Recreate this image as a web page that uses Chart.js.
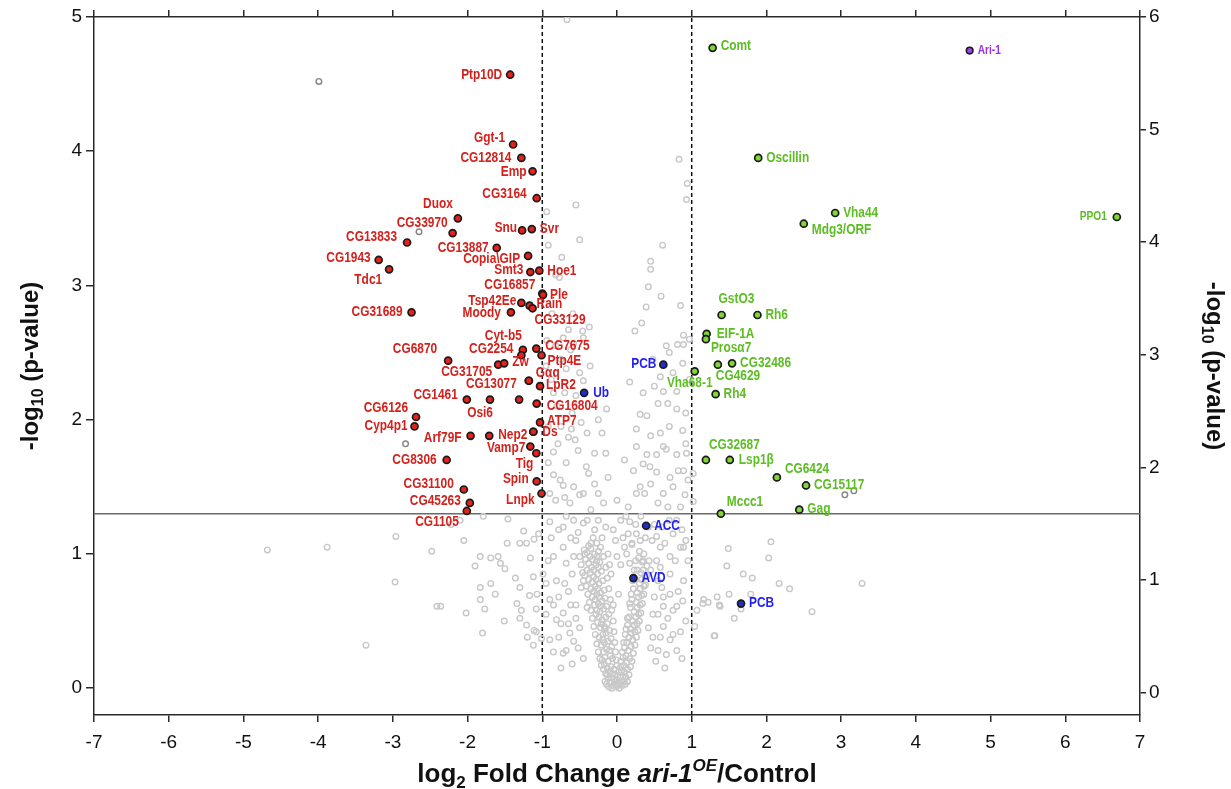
<!DOCTYPE html>
<html>
<head>
<meta charset="utf-8">
<script src="https://cdn.jsdelivr.net/npm/chart.js@4.4.0/dist/chart.umd.min.js"></script>
<style>html,body{margin:0;padding:0;background:#fff;}</style>
</head>
<body>
<canvas id="myChart" width="1231" height="789"></canvas>
<script>
const xTicks = [-7, -6, -5, -4, -3, -2, -1, 0, 1, 2, 3, 4, 5, 6, 7];
const yLeftTicks = [0, 1, 2, 3, 4, 5];
const yRightTicks = [0, 1, 2, 3, 4, 5, 6];
const pCutoff = 1.3;
const foldCutoff = 1;

// down-regulated (red)
const redNames = ['Ptp10D', 'Ggt-1', 'CG12814', 'Emp', 'CG3164', 'Duox', 'CG33970', 'CG13833', 'CG1943', 'Tdc1',
  'Snu', 'Svr', 'CG13887', 'Copia\\GIP', 'Smt3', 'Hoe1', 'CG16857', 'Ple', 'Tsp42Ee', 'CG33129', 'Rain', 'Moody',
  'CG31689', 'Cyt-b5', 'CG2254', 'CG7675', 'Ptp4E', 'CG6870', 'CG31705', 'Zw', 'CG13077', 'Gαq', 'LpR2',
  'CG1461', 'Osi6', '', 'CG16804', 'CG6126', 'Cyp4p1', 'ATP7', 'Nep2', 'Ds', 'Arf79F', '', 'Vamp7', 'Tig',
  'CG8306', 'Spin', 'Lnpk', 'CG31100', 'CG45263', 'CG1105'];
const redX = [-1.43, -1.39, -1.28, -1.13, -1.075, -2.13, -2.20, -2.81, -3.19, -3.05,
  -1.27, -1.14, -1.61, -1.19, -1.16, -1.04, -1.00, -0.99, -1.28, -1.17, -1.13, -1.42,
  -2.75, -1.26, -1.28, -1.08, -1.01, -2.26, -1.59, -1.51, -1.18, -1.18, -1.03,
  -2.01, -1.70, -1.31, -1.075, -2.69, -2.71, -1.03, -1.12, -1.12, -1.96, -1.71, -1.16, -1.08,
  -2.28, -1.075, -1.01, -2.05, -1.97, -2.01];
const redY = [4.57, 4.05, 3.95, 3.85, 3.65, 3.50, 3.39, 3.32, 3.19, 3.12,
  3.41, 3.42, 3.28, 3.22, 3.10, 3.11, 2.94, 2.93, 2.87, 2.85, 2.83, 2.80,
  2.80, 2.52, 2.48, 2.53, 2.48, 2.44, 2.41, 2.42, 2.29, 2.29, 2.25,
  2.15, 2.15, 2.15, 2.12, 2.02, 1.95, 1.98, 1.91, 1.91, 1.88, 1.88, 1.80, 1.75,
  1.70, 1.54, 1.45, 1.48, 1.38, 1.32];

// up-regulated (green)
const greenNames = ['Comt', 'Oscillin', 'Vha44', 'Mdg3/ORF', 'GstO3', 'Rh6', 'EIF-1A', 'Prosα7', 'CG4629',
  'CG32486', 'Vha68-1', 'Rh4', 'CG32687', 'Lsp1β', 'CG6424', 'CG15117', 'Mccc1', 'Gag', 'PPO1'];
const greenX = [1.28, 1.89, 2.92, 2.50, 1.40, 1.88, 1.20, 1.19, 1.35, 1.54, 1.04, 1.32, 1.19, 1.51, 2.14, 2.53, 1.39, 2.44, 6.69];
const greenY = [4.77, 3.95, 3.54, 3.46, 2.78, 2.78, 2.64, 2.60, 2.41, 2.42, 2.36, 2.19, 1.70, 1.70, 1.57, 1.51, 1.30, 1.33, 3.51];

// highlighted (blue)
const blueNames = ['PCB', 'Ub', 'ACC', 'AVD', 'PCB'];
const blueX = [0.62, -0.44, 0.39, 0.22, 1.66];
const blueY = [2.41, 2.20, 1.21, 0.82, 0.63];

// overexpressed gene (purple)
const ariNames = ['Ari-1'];
const ariX = [4.72];
const ariY = [4.75];

// significant but unnamed
const darkGrayPoints = [[-3.99, 4.52], [-2.65, 3.40], [-2.83, 1.82], [3.05, 1.44], [3.17, 1.47]];

// all other proteins
const grayPoints = [
  [-0.14, 0.03], [-0.11, 0.01], [-0.09, 0.04], [-0.07, 0.00], [-0.05, 0.02], [-0.03, 0.05], [-0.01, 0.01], [0.01, 0.03],
  [0.03, 0.00], [0.05, 0.04], [0.07, 0.02], [0.09, 0.05], [0.11, 0.03], [-0.12, 0.07], [-0.08, 0.08], [-0.04, 0.07],
  [0.00, 0.06], [0.04, 0.08], [0.08, 0.09], [0.12, 0.08], [-0.15, 0.11], [-0.10, 0.12], [-0.06, 0.11], [-0.02, 0.10],
  [0.02, 0.12], [0.06, 0.13], [0.10, 0.12], [0.14, 0.14], [-0.13, 0.15], [-0.08, 0.16], [-0.04, 0.14], [0.00, 0.17],
  [0.05, 0.16], [0.09, 0.17], [-0.17, 0.18], [0.13, 0.19],
  [-0.20, 0.21], [-0.16, 0.23], [-0.12, 0.20], [-0.09, 0.24], [-0.06, 0.22], [-0.18, 0.27], [-0.14, 0.29], [-0.10, 0.28],
  [-0.07, 0.31], [-0.21, 0.32], [-0.17, 0.34], [-0.12, 0.35], [-0.08, 0.37], [-0.24, 0.38], [-0.19, 0.40], [-0.15, 0.41],
  [-0.10, 0.43], [-0.22, 0.45], [-0.17, 0.46], [-0.13, 0.48], [-0.26, 0.49], [-0.20, 0.51], [-0.15, 0.53], [-0.11, 0.55],
  [-0.28, 0.55], [-0.23, 0.57], [-0.18, 0.59], [-0.14, 0.61], [-0.30, 0.62], [-0.25, 0.63], [-0.20, 0.65], [-0.16, 0.67],
  [-0.33, 0.68], [-0.27, 0.70], [-0.22, 0.71], [-0.17, 0.73], [-0.35, 0.74], [-0.29, 0.76], [-0.24, 0.78], [-0.19, 0.80],
  [-0.38, 0.81], [-0.31, 0.83], [-0.26, 0.85], [-0.21, 0.87], [-0.40, 0.88], [-0.34, 0.90], [-0.28, 0.92], [-0.23, 0.94],
  [-0.42, 0.96], [-0.36, 0.98], [-0.30, 1.00], [-0.44, 1.03], [-0.25, 1.02],
  [-0.16, 0.05], [-0.13, 0.10], [-0.18, 0.14], [-0.21, 0.17], [-0.23, 0.22], [-0.25, 0.27], [-0.27, 0.33], [-0.29, 0.40],
  [-0.31, 0.46], [-0.33, 0.52], [-0.35, 0.58], [-0.37, 0.64], [-0.39, 0.70], [-0.41, 0.76], [-0.43, 0.84], [-0.46, 0.86],
  [-0.50, 0.98], [-0.38, 1.06], [-0.32, 1.12], [-0.27, 1.08], [-0.22, 1.05], [-0.18, 0.98], [-0.15, 0.90], [-0.13, 0.82],
  [-0.11, 0.74], [-0.09, 0.66], [-0.07, 0.58], [-0.05, 0.50], [-0.04, 0.42], [-0.03, 0.34], [-0.02, 0.27], [-0.01, 0.21],
  [-0.19, 0.36], [-0.16, 0.44], [-0.21, 0.48], [-0.24, 0.53], [-0.27, 0.58], [-0.22, 0.61], [-0.29, 0.66], [-0.24, 0.68],
  [-0.31, 0.72], [-0.26, 0.74], [-0.33, 0.79], [-0.28, 0.81], [-0.36, 0.86], [-0.31, 0.88], [-0.25, 0.90], [-0.38, 0.93],
  [-0.33, 0.96], [-0.27, 0.98], [-0.40, 1.01], [-0.35, 1.04],
  [0.17, 0.22], [0.12, 0.24], [0.08, 0.23], [0.15, 0.28], [0.10, 0.30], [0.19, 0.31], [0.13, 0.34], [0.21, 0.36],
  [0.16, 0.38], [0.11, 0.40], [0.24, 0.42], [0.18, 0.44], [0.14, 0.47], [0.27, 0.48], [0.21, 0.50], [0.16, 0.53],
  [0.29, 0.55], [0.23, 0.57], [0.18, 0.60], [0.31, 0.62], [0.26, 0.64], [0.20, 0.66], [0.33, 0.69], [0.27, 0.71],
  [0.22, 0.74], [0.36, 0.76], [0.30, 0.78], [0.25, 0.81], [0.38, 0.83], [0.32, 0.86], [0.27, 0.88], [0.40, 0.91],
  [0.34, 0.94], [0.29, 0.97],
  [0.14, 0.05], [0.16, 0.10], [0.18, 0.16], [0.20, 0.20], [0.22, 0.26], [0.24, 0.32], [0.26, 0.38], [0.28, 0.43],
  [0.30, 0.50], [0.32, 0.56], [0.34, 0.63], [0.36, 0.70], [0.38, 0.77], [0.40, 0.84], [0.43, 0.95], [0.36, 1.00],
  [0.05, 0.20], [0.07, 0.27], [0.09, 0.34], [0.12, 0.44], [0.14, 0.52], [0.17, 0.63], [0.19, 0.70], [0.21, 0.80],
  [0.23, 0.88], [0.25, 0.95], [0.19, 0.41], [0.23, 0.47], [0.25, 0.53], [0.27, 0.60], [0.29, 0.68], [0.31, 0.74],
  [0.33, 0.81], [0.35, 0.88],
  [-0.05, 0.62], [0.02, 0.70], [-0.08, 0.85], [0.05, 0.92], [-0.12, 1.00], [0.10, 1.05], [-0.02, 1.10], [0.20, 1.08],
  [-0.35, 1.08], [-0.20, 1.12], [0.30, 1.02], [0.38, 1.12], [-0.48, 0.92], [-0.45, 0.80], [0.45, 0.88], [-0.15, 1.20],
  [0.05, 1.25], [0.25, 1.22], [-0.30, 1.18], [-0.40, 1.25], [0.42, 1.20],
  [-0.10, 0.92], [0.00, 0.98], [0.08, 1.12], [0.15, 1.15], [-0.05, 1.18], [-0.25, 1.25], [0.32, 1.28], [0.12, 1.28],
  [-0.52, 1.16], [-0.62, 1.12], [0.58, 1.05], [0.47, 1.10], [0.60, 1.20], [-0.68, 1.28], [-0.78, 1.18], [0.70, 1.25],
  [0.92, 1.10],
  [-0.90, 1.24], [-0.72, 1.20], [-0.58, 1.25], [-0.45, 1.23], [-1.05, 1.15], [-0.72, 1.05], [-0.85, 0.98], [-0.58, 0.98],
  [-0.43, 1.00], [-0.27, 0.95], [-0.99, 0.85], [-0.81, 0.80], [-1.07, 0.70], [-0.90, 0.66], [-0.72, 0.56], [-0.81, 0.51],
  [-0.63, 0.41], [-0.90, 0.36], [-0.85, 0.27], [-0.72, 0.26], [-0.65, 0.72], [-0.55, 0.62], [-0.60, 0.85], [-0.50, 0.45],
  [-0.68, 0.93], [-0.78, 0.68], [-0.95, 0.55], [-0.52, 0.30], [-0.60, 0.18], [-0.45, 0.22], [-0.75, 0.15], [-0.40, 0.60],
  [-0.55, 1.10], [-0.88, 1.12], [-0.65, 0.48], [-0.48, 0.75],
  [-0.55, 0.52], [-0.62, 0.62], [-0.70, 0.78], [-0.58, 0.35], [-0.68, 0.28], [-0.78, 0.38], [-0.95, 0.78], [-0.92, 0.95],
  [-0.75, 0.48], [-0.85, 0.62],
  [0.17, 1.24], [0.26, 1.15], [0.20, 1.07], [0.31, 1.10], [0.53, 1.13], [0.75, 1.15], [0.87, 1.18], [0.89, 1.05],
  [0.71, 0.98], [0.13, 1.00], [0.17, 0.93], [0.35, 0.95], [0.53, 0.95], [0.71, 0.85], [0.89, 0.80], [0.71, 0.70],
  [0.80, 0.61], [0.62, 0.61], [0.71, 0.36], [0.62, 0.46], [0.80, 0.28], [0.87, 0.22], [0.55, 0.80], [0.50, 0.68],
  [0.60, 0.75], [0.48, 0.55], [0.58, 0.38], [0.45, 0.30], [0.52, 0.20], [0.66, 0.25], [0.92, 0.50], [0.85, 0.42],
  [0.95, 0.95], [0.64, 1.08], [0.50, 1.22], [0.80, 1.25], [0.42, 0.45],
  [0.55, 0.55], [0.62, 0.68], [0.68, 0.52], [0.75, 0.58], [0.82, 0.72], [0.88, 0.65], [0.55, 0.28], [0.64, 0.15],
  [0.75, 0.40], [0.48, 0.38], [0.58, 0.90], [0.78, 0.95], [0.85, 1.05],
  [-0.36, 2.40], [-0.50, 2.35], [-0.45, 2.29], [0.17, 2.28], [0.62, 2.21], [0.80, 2.21], [0.80, 2.08], [-0.14, 2.08],
  [0.31, 2.04], [0.40, 2.03], [-0.25, 2.00], [0.26, 1.93], [-0.61, 1.93], [-0.65, 1.87], [-0.56, 1.85], [-0.79, 1.82],
  [-0.85, 1.76], [-0.52, 1.77], [0.26, 1.80], [0.40, 1.74], [0.53, 1.74], [0.62, 1.80], [0.66, 1.78], [0.35, 1.67],
  [0.44, 1.65], [0.53, 1.61], [0.80, 1.74], [0.93, 1.75], [0.89, 1.62], [0.71, 1.57], [-0.12, 1.57], [-0.41, 1.65],
  [-0.38, 1.60], [-0.85, 1.59], [-0.76, 1.55], [-0.72, 1.51], [-0.58, 1.50], [-0.45, 1.45], [-0.90, 1.45], [-0.25, 1.45],
  [0.31, 1.50], [0.26, 1.45], [0.37, 1.45], [0.75, 1.50], [0.91, 1.44], [-0.63, 1.38], [-0.50, 1.44],
  [-0.80, 2.10], [-0.70, 2.20], [-0.88, 2.30], [-0.60, 2.05], [-0.92, 1.95], [-0.68, 1.68], [-0.30, 1.75], [-0.20, 1.90],
  [0.10, 1.70], [0.00, 1.40], [0.15, 1.35], [-0.35, 1.33], [0.55, 1.38], [0.68, 1.35], [0.85, 1.35], [0.95, 1.55],
  [0.70, 1.95], [0.92, 2.05], [0.55, 2.12], [0.48, 2.45], [0.70, 2.50], [0.58, 2.32], [-0.75, 2.45], [-0.62, 2.52],
  [-0.95, 2.40], [0.88, 1.92], [0.97, 2.30], [0.97, 2.60], [-0.85, 2.20],
  [-0.82, 1.40], [-0.70, 1.42], [-0.30, 1.52], [-0.18, 1.38], [0.22, 1.62], [0.45, 1.52], [0.62, 1.45], [0.82, 1.62],
  [0.58, 1.90], [0.45, 1.88], [0.75, 2.35], [0.88, 2.42], [-0.55, 2.18], [-0.68, 2.38], [-0.82, 2.55], [-0.48, 1.98],
  [-0.92, 1.68], [-0.75, 1.95], [0.35, 2.20], [0.50, 2.25], [0.68, 2.12], [0.92, 1.82], [-0.40, 1.90], [-0.15, 1.75],
  [-0.67, 4.98], [0.83, 3.94], [0.94, 3.76], [0.93, 3.64], [-0.94, 3.55], [-0.55, 3.60], [-0.50, 3.34], [0.61, 3.30],
  [-0.74, 3.21], [0.45, 3.18], [0.45, 3.12], [-0.77, 3.06], [0.42, 2.99], [0.59, 2.92], [0.85, 2.85], [0.39, 2.84],
  [0.33, 2.72], [0.24, 2.66], [0.89, 2.63], [-0.87, 2.79], [-0.59, 2.79], [-0.65, 2.67], [-0.46, 2.66], [-0.37, 2.69],
  [-0.72, 2.61], [-0.45, 2.61], [-0.58, 2.57], [-0.94, 2.59], [0.66, 2.55], [0.81, 2.56], [0.89, 2.56], [-0.82, 3.08],
  [-0.92, 3.30],
  [-4.68, 1.03], [-3.88, 1.05], [-3.36, 0.32], [-2.96, 1.13], [-2.97, 0.79], [-2.48, 1.02], [-2.41, 0.61], [-2.36, 0.61],
  [-2.05, 1.10], [-2.02, 0.56], [-1.79, 1.28], [-2.10, 1.25], [-1.83, 0.98], [-1.90, 0.91], [-1.69, 0.97], [-1.56, 0.93],
  [-1.50, 0.89], [-1.46, 1.26], [-1.47, 1.08], [-1.30, 1.08], [-1.21, 1.08], [-1.25, 1.17], [-1.11, 1.11], [-1.16, 0.97],
  [-1.36, 0.82], [-1.12, 0.83], [-1.69, 0.78], [-1.83, 0.75], [-1.30, 0.75], [-1.63, 0.70], [-1.17, 0.69], [-1.83, 0.66],
  [-1.77, 0.59], [-1.34, 0.63], [-1.28, 0.58], [-1.08, 0.59], [-1.30, 0.52], [-1.51, 0.50], [-1.21, 0.47], [-1.11, 0.43],
  [-1.08, 0.42], [-1.80, 0.41], [-1.20, 0.38], [-1.12, 0.32], [-1.01, 0.37], [-2.22, 1.22], [-1.59, 0.98],
  [1.02, 1.39], [1.02, 1.60],
  [2.06, 1.09], [1.49, 1.04], [2.03, 0.97], [1.47, 0.91], [1.69, 0.85], [1.81, 0.82], [2.17, 0.78], [2.31, 0.74],
  [3.28, 0.78], [1.50, 0.70], [1.34, 0.68], [1.79, 0.70], [1.16, 0.66], [1.22, 0.64], [1.37, 0.62], [1.15, 0.63],
  [1.66, 0.59], [1.07, 0.58], [2.61, 0.57], [1.57, 0.52], [1.04, 0.46], [1.30, 0.39], [1.38, 0.61], [1.31, 0.39]
];

// label placement: [dx px, dy px, align]
const redLabelPos = [[-8, 0, 'r'], [-8, -6, 'r'], [-10, 0, 'r'], [-6, 1, 'r'], [-10, -4, 'r'], [-5, -14, 'r'], [-5, -10, 'r'],
  [-10, -5, 'r'], [-8, -2, 'r'], [-7, 11, 'r'], [-5, -2, 'r'], [8, 0, 'l'], [-8, 0, 'r'], [-8, 3, 'r'], [-7, -2, 'r'],
  [8, 0, 'l'], [-7, -8, 'r'], [7, 0, 'l'], [-5, -2, 'r'], [5, 15, 'l'], [4, -4, 'l'], [-10, 1, 'r'],
  [-9, 0, 'r'], [-1, -14, 'r'], [-8, -6, 'r'], [9, -2, 'l'], [6, 6, 'l'], [-11, -11, 'r'], [-6, 7, 'r'], [8, -1, 'l'],
  [-12, 3, 'r'], [7, -8, 'l'], [6, -1, 'l'], [-9, -4, 'r'], [3, 14, 'r'], [0, 0, 'l'], [10, 3, 'l'], [-8, -9, 'r'],
  [-7, 0, 'r'], [7, -1, 'l'], [-6, 3, 'r'], [9, 0, 'l'], [-9, 2, 'r'], [0, 0, 'l'], [-5, 2, 'r'], [-3, 11, 'r'],
  [-10, 0, 'r'], [-8, -2, 'r'], [-7, 7, 'r'], [-10, -5, 'r'], [-9, -2, 'r'], [-8, 11, 'r']];
const greenLabelPos = [[8, -2, 'l'], [8, 0, 'l'], [8, 0, 'l'], [8, 6, 'l'], [-3, -16, 'l'], [8, 0, 'l'], [10, 0, 'l'],
  [5, 9, 'l'], [-2, 11, 'l'], [8, 0, 'l'], [-5, 12, 'c'], [8, 0, 'l'], [3, -15, 'l'], [9, 0, 'l'], [8, -8, 'l'],
  [8, 0, 'l'], [6, -12, 'l'], [8, 0, 'l'], [-10, 0, 'r']];
const blueLabelPos = [[-7, -1, 'r'], [9, 0, 'l'], [8, 0, 'l'], [8, 0, 'l'], [8, 0, 'l']];
const ariLabelPos = [[8, 0, 'l']];

const labelFont = "'Liberation Sans', Arial, sans-serif";
const axisFont = "'Liberation Sans', Arial, sans-serif";
const narrow = 0.85;

function toXY(xs, ys) {
    return xs.map((v, i) => ({ x: v, y: ys[i] }));
}

// gene names next to the points, condensed like the original figure
const labelPlugin = {
    id: 'pointLabels',
    afterDatasetsDraw(chart) {
        const ctx = chart.ctx;
        chart.data.datasets.forEach((ds, i) => {
            if (!ds.names) return;
            const meta = chart.getDatasetMeta(i);
            ctx.save();
            ctx.fillStyle = ds.labelColor;
            ctx.textBaseline = 'middle';
            meta.data.forEach((pt, j) => {
                const name = ds.names[j];
                if (!name) return;
                const pos = ds.labelPos[j];
                const small = name === 'PPO1' || name === 'Ari-1';
                ctx.font = 'bold ' + (small ? 12 : 14) + 'px ' + labelFont;
                ctx.textAlign = pos[2] === 'r' ? 'right' : pos[2] === 'c' ? 'center' : 'left';
                ctx.save();
                ctx.translate(pt.x + pos[0], pt.y + pos[1]);
                ctx.scale(narrow, 1);
                ctx.fillText(name, 0, 0);
                ctx.restore();
            });
            ctx.restore();
        });
    }
};

// axis titles with subscripts / superscripts
function drawRich(ctx, parts, cx, cy) {
    let total = 0;
    parts.forEach(p => { ctx.font = p.font; total += ctx.measureText(p.t).width; });
    let x = cx - total / 2;
    parts.forEach(p => {
        ctx.font = p.font;
        ctx.fillText(p.t, x, cy + (p.dy || 0));
        x += ctx.measureText(p.t).width;
    });
}

const titlePlugin = {
    id: 'axisTitles',
    afterDraw(chart) {
        const ctx = chart.ctx;
        const area = chart.chartArea;
        ctx.save();
        ctx.fillStyle = '#111';
        ctx.textBaseline = 'alphabetic';
        ctx.textAlign = 'left';
        const big = 'bold 26px ' + axisFont;
        const sml = 'bold 17px ' + axisFont;
        drawRich(ctx, [
            { t: 'log', font: big }, { t: '2', font: sml, dy: 6 }, { t: ' Fold Change ', font: big },
            { t: 'ari-1', font: 'italic ' + big }, { t: 'OE', font: 'italic ' + sml, dy: -11 },
            { t: '/Control', font: big }
        ], (area.left + area.right) / 2, 782);

        const yb = 'bold 24px ' + axisFont;
        const ys = 'bold 16px ' + axisFont;
        const yParts = [{ t: '-log', font: yb }, { t: '10', font: ys, dy: 5 }, { t: ' (p-value)', font: yb }];
        ctx.save();
        ctx.translate(38, (area.top + area.bottom) / 2);
        ctx.rotate(-Math.PI / 2);
        drawRich(ctx, yParts, 0, 0);
        ctx.restore();
        ctx.save();
        ctx.translate(1207, (area.top + area.bottom) / 2);
        ctx.rotate(Math.PI / 2);
        drawRich(ctx, yParts, 0, 0);
        ctx.restore();
        ctx.restore();
    }
};

function fixedTicks(list) {
    return scale => { scale.ticks = list.map(v => ({ value: v })); };
}

const axisColor = '#2a2a2a';
const tickFont = { family: axisFont, size: 19 };

const myChart = new Chart('myChart', {
    type: 'scatter',
    data: {
        datasets: [
            {
                names: ariNames, labelPos: ariLabelPos, labelColor: '#9a2fe4',
                data: toXY(ariX, ariY), backgroundColor: '#a33ff0', borderColor: '#1a1a1a',
                pointRadius: 3.3, borderWidth: 1.6, order: 1, xAxisID: 'x', yAxisID: 'y'
            },
            {
                names: redNames, labelPos: redLabelPos, labelColor: '#d3211c',
                data: toXY(redX, redY), backgroundColor: '#e3221c', borderColor: '#1a1a1a',
                pointRadius: 3.5, borderWidth: 1.7, order: 2, xAxisID: 'x', yAxisID: 'y'
            },
            {
                names: greenNames, labelPos: greenLabelPos, labelColor: '#5dbd24',
                data: toXY(greenX, greenY), backgroundColor: '#7fd635', borderColor: '#1a1a1a',
                pointRadius: 3.5, borderWidth: 1.7, order: 2, xAxisID: 'x', yAxisID: 'y'
            },
            {
                names: blueNames, labelPos: blueLabelPos, labelColor: '#2222f0',
                data: toXY(blueX, blueY), backgroundColor: '#1f2fc8', borderColor: '#1a1a1a',
                pointRadius: 3.5, borderWidth: 1.7, order: 2, xAxisID: 'x', yAxisID: 'y'
            },
            {
                data: darkGrayPoints.map(p => ({ x: p[0], y: p[1] })),
                backgroundColor: 'rgba(255,255,255,0)', borderColor: '#858585',
                pointRadius: 2.8, borderWidth: 1.4, order: 4, xAxisID: 'x', yAxisID: 'y'
            },
            {
                data: grayPoints.map(p => ({ x: p[0], y: p[1] })),
                backgroundColor: 'rgba(255,255,255,0)', borderColor: '#c8c8c8',
                pointRadius: 2.8, borderWidth: 1.4, order: 5, xAxisID: 'x', yAxisID: 'y'
            },
            {
                type: 'line', data: [{ x: -7, y: pCutoff }, { x: 7, y: pCutoff }],
                borderColor: '#6a6a6a', borderWidth: 1.5, pointRadius: 0, order: 6, xAxisID: 'x', yAxisID: 'y'
            },
            {
                type: 'line', data: [{ x: -foldCutoff, y: -0.2 }, { x: -foldCutoff, y: 5 }],
                borderColor: '#111', borderWidth: 1.5, borderDash: [4, 3], pointRadius: 0, order: 6, xAxisID: 'x', yAxisID: 'y'
            },
            {
                type: 'line', data: [{ x: foldCutoff, y: -0.2 }, { x: foldCutoff, y: 5 }],
                borderColor: '#111', borderWidth: 1.5, borderDash: [4, 3], pointRadius: 0, order: 6, xAxisID: 'x', yAxisID: 'y'
            }
        ]
    },
    options: {
        responsive: false,
        animation: false,
        devicePixelRatio: 1,
        layout: { padding: 0 },
        plugins: {
            legend: { display: false },
            tooltip: { enabled: false }
        },
        scales: {
            x: {
                type: 'linear', position: 'bottom', min: -7, max: 7,
                afterBuildTicks: fixedTicks(xTicks),
                afterFit: s => { s.height = 74; },
                ticks: { font: tickFont, color: '#111', padding: 9, maxRotation: 0 },
                grid: { drawOnChartArea: false, drawTicks: true, tickLength: 7, color: axisColor, lineWidth: 1.5 },
                border: { color: axisColor, width: 1.5 }
            },
            xTop: {
                type: 'linear', position: 'top', min: -7, max: 7,
                afterBuildTicks: fixedTicks(xTicks),
                afterFit: s => { s.height = 17; },
                ticks: { display: false },
                grid: { drawOnChartArea: false, drawTicks: true, tickLength: 7, color: axisColor, lineWidth: 1.5 },
                border: { color: axisColor, width: 1.5 }
            },
            y: {
                type: 'linear', position: 'left', min: -0.2, max: 5,
                afterBuildTicks: fixedTicks(yLeftTicks),
                afterFit: s => { s.width = 94; },
                ticks: { font: tickFont, color: '#111', padding: 4 },
                grid: { drawOnChartArea: false, drawTicks: true, tickLength: 8, color: axisColor, lineWidth: 1.5 },
                border: { color: axisColor, width: 1.5 }
            },
            y2: {
                type: 'linear', position: 'right', min: -0.2, max: 6,
                afterBuildTicks: fixedTicks(yRightTicks),
                afterFit: s => { s.width = 91; },
                ticks: { font: tickFont, color: '#111', padding: 3 },
                grid: { drawOnChartArea: false, drawTicks: true, tickLength: 6, color: axisColor, lineWidth: 1.5 },
                border: { color: axisColor, width: 1.5 }
            }
        }
    },
    plugins: [labelPlugin, titlePlugin]
});
</script>
</body>
</html>
